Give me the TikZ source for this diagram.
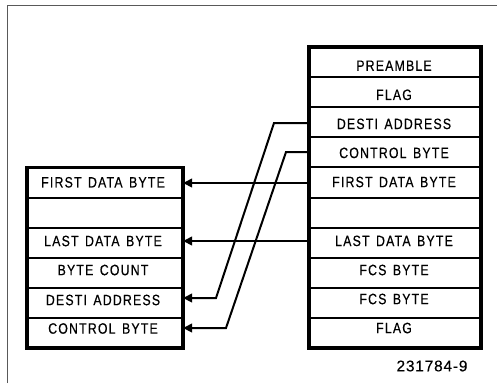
\documentclass[tikz,border=0pt]{standalone}
\usepackage{fontspec}
\setmainfont{Liberation Sans}
\newfontfamily\cad{Liberation Sans}[FakeStretch=0.82,LetterSpace=8,FakeBold=0.5,WordSpace=1.4]
\newfontfamily\cadnum{Liberation Sans}[LetterSpace=5,FakeBold=0.4]
\usetikzlibrary{arrows.meta}
\begin{document}
\begin{tikzpicture}[x=1pt,y=-1pt,
  rowbox/.style={draw, line width=2pt, minimum height=30.1pt, inner sep=0pt, outer sep=0pt},
  rrow/.style={rowbox, minimum width=172pt},
  lrow/.style={rowbox, minimum width=156pt},
  outerbox/.style={line width=3.4pt},
  txt/.style={font=\cad\fontsize{15}{15}\selectfont, inner sep=0pt},
  conn/.style={line width=2pt},
  arr/.style={conn, -{Triangle[length=9pt,width=8.5pt]}},
  frameline/.style={line width=1.3pt, draw=black!65}]
\useasboundingbox (0,0) rectangle (497,383);
\draw[frameline] (7.5,383) -- (7.5,5.5) -- (497,5.5);
% right frame
\foreach \i in {1,...,10}{
  \node[rrow] (r\i) at (395,{47+30.1*(\i-0.5)}) {};
}
\draw[outerbox] (r1.north west) rectangle (r10.south east);
% left frame
\foreach \j in {1,...,6}{
  \node[lrow] (l\j) at (105,{47+30.1*(\j+3.5)}) {};
}
\draw[outerbox] (l1.north west) rectangle (l6.south east);
% right texts
\node[txt] (rt1) at (394,65.7) {PREAMBLE};
\node[txt] (rt2) at (394,94.8) {FLAG};
\node[txt] (rt3) at (394,123.9) {DESTI ADDRESS};
\node[txt] (rt4) at (394,152.9) {CONTROL BYTE};
\node[txt] (rt5) at (394,182.0) {FIRST DATA BYTE};
\node[txt] (rt7) at (394,240.9) {LAST DATA BYTE};
\node[txt] (rt8) at (394,270.0) {FCS BYTE};
\node[txt] (rt9) at (394,299.0) {FCS BYTE};
\node[txt] (rt10) at (394,328.0) {FLAG};
% left texts
\node[txt] (lt1) at (103,182.3) {FIRST DATA BYTE};
\node[txt] (lt3) at (103,241.0) {LAST DATA BYTE};
\node[txt] (lt4) at (103,270.0) {BYTE COUNT};
\node[txt] (lt5) at (103,300.0) {DESTI ADDRESS};
\node[txt] (lt6) at (103,328.5) {CONTROL BYTE};
% connectors
\coordinate (a1) at (274,123);
\coordinate (a2) at (216,298);
\coordinate (c1) at (286,152);
\coordinate (c2) at (226,328);
\draw[arr] (r5.west |- 0,183) -- (l1.east |- 0,183);
\draw[arr] (r7.west |- 0,241) -- (l3.east |- 0,241);
\draw[arr] (r3.west |- a1) -- (a1) -- (a2) -- (l5.east |- a2);
\draw[arr] (r4.west |- c1) -- (c1) -- (c2) -- (l6.east |- c2);
% figure number
\node[font=\cadnum\fontsize{15.5}{15.5}\selectfont, inner sep=0pt] (fig) at (432,366) {231784-9};
\end{tikzpicture}
\end{document}
